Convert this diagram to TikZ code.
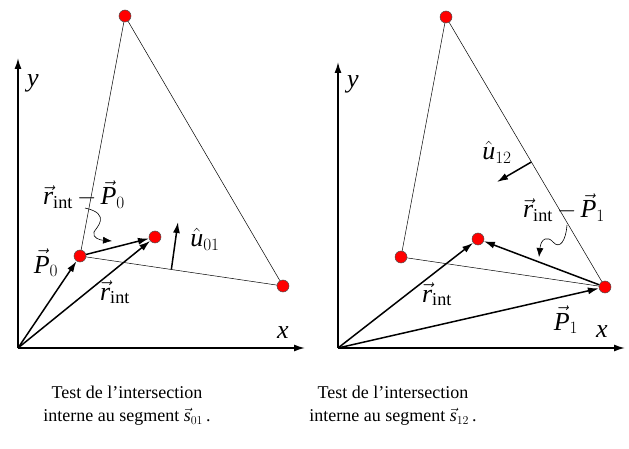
\documentclass[tikz,border=0pt]{standalone}
\usepackage{amsmath}
\usepackage{fontspec}
\setmainfont{Liberation Serif}
\usetikzlibrary{arrows.meta,calc}

\begin{document}
\begin{tikzpicture}[
    x=1pt, y=-1pt,
    >=Latex,
    vertex/.style={
        circle,
        fill=red,
        draw=black!70,
        line width=0.5pt,
        minimum size=12pt,
        inner sep=0pt
    },
    edge/.style={
        draw=black,
        line width=0.5pt
    },
    axis/.style={
        -{Latex[length=11pt,width=7pt]},
        line width=1.5pt
    },
    vect/.style={
        -{Latex[length=11pt,width=7pt]},
        line width=1.5pt
    },
    wavy/.style={
        -{Latex[length=9pt,width=7pt]},
        line width=0.6pt
    },
    lbl/.style={
        font=\fontsize{26}{30}\selectfont,
        execute at begin node={\medmuskip=3mu\relax},
        anchor=base,
        inner sep=0pt
    },
    caption/.style={
        align=center,
        font=\fontsize{18}{23}\selectfont
    }
]
\useasboundingbox (0,0) rectangle (629,449);

% left panel: segment s01
\coordinate (o1) at (18,348);
\coordinate (x1) at (305,348);
\coordinate (y1) at (18,58);
\draw[axis] (o1) -- (x1);
\draw[axis] (o1) -- (y1);

\node[vertex] (p0) at (80,256) {};
\node[vertex] (t1) at (125,16) {};
\node[vertex] (t2) at (283,286) {};
\node[vertex] (ri1) at (155,237) {};

\draw[edge] (p0) -- (t1) -- (t2) -- (p0);

\draw[vect] (o1) -- (p0);
\draw[vect] (o1) -- (ri1);
\draw[vect] (p0) -- (ri1);

\coordinate (u01) at ($(p0)!0.45!(t2)$);
\coordinate (u01tip) at (178,222);
\draw[vect] (u01) -- (u01tip);

\coordinate (w1a) at (85,208);
\coordinate (w1b) at (112,241);
\draw[wavy] (w1a) .. controls (112,214) and (96,228) .. (94,232)
    .. controls (92,238) and (100,240) .. (w1b);

\node[lbl] (ly1) at (33,87) {$\mathit{y}$};
\node[lbl] (lx1) at (283,338) {$\mathit{x}$};
\node[lbl] (ldiff1) at (84,205) {$\vec{\mathit{r}}_{\mathrm{int}}-\vec{\mathit{P}}_{0}$};
\node[lbl] (lp0) at (46,273) {$\vec{\mathit{P}}_{0}$};
\node[lbl] (lri1) at (115,300) {$\vec{\mathit{r}}_{\mathrm{int}}$};
\node[lbl] (lu01) at (205,247) {$\hat{\mathit{u}}_{01}$};

\node[caption] (cap1) at (127,406) {Test de l’intersection\\interne au segment $\vec{\mathit{s}}_{01}$\,.};

% right panel: segment s12
\coordinate (o2) at (338,348);
\coordinate (x2) at (625,348);
\coordinate (y2) at (338,62);
\draw[axis] (o2) -- (x2);
\draw[axis] (o2) -- (y2);

\node[vertex] (q0) at (401,257) {};
\node[vertex] (q1) at (446,17) {};
\node[vertex] (p1) at (605,287) {};
\node[vertex] (ri2) at (478,239) {};

\draw[edge] (q0) -- (q1) -- (p1) -- (q0);

\draw[vect] (o2) -- (ri2);
\draw[vect] (o2) -- (p1);
\draw[vect] (p1) -- (ri2);

\coordinate (u12) at ($(q1)!0.537!(p1)$);
\coordinate (u12tip) at (497,182);
\draw[vect] (u12) -- (u12tip);

\coordinate (w2a) at (567,225);
\coordinate (w2b) at (539,257);
\draw[wavy] (w2a) .. controls (566,240) and (560,250) .. (553,242)
    .. controls (548,236) and (541,238) .. (w2b);

\node[lbl] (ly2) at (353,88) {$\mathit{y}$};
\node[lbl] (lx2) at (602,337) {$\mathit{x}$};
\node[lbl] (lu12) at (497,160) {$\hat{\mathit{u}}_{12}$};
\node[lbl] (ldiff2) at (564,218) {$\vec{\mathit{r}}_{\mathrm{int}}-\vec{\mathit{P}}_{1}$};
\node[lbl] (lri2) at (437,302) {$\vec{\mathit{r}}_{\mathrm{int}}$};
\node[lbl] (lp1) at (566,330) {$\vec{\mathit{P}}_{1}$};

\node[caption] (cap2) at (393,406) {Test de l’intersection\\interne au segment $\vec{\mathit{s}}_{12}$\,.};

\end{tikzpicture}
\end{document}
